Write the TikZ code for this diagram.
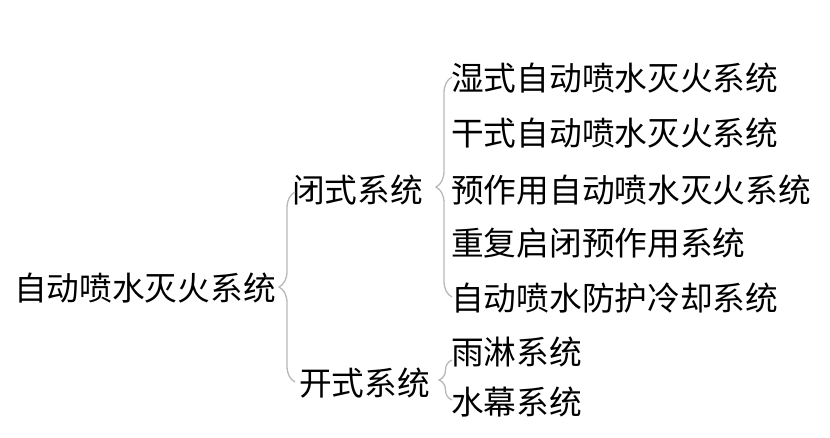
\documentclass[tikz,border=0pt]{standalone}
\usepackage{fontspec}
\setmainfont{Noto Sans CJK SC}
\usetikzlibrary{decorations.pathreplacing}
\definecolor{bracegray}{HTML}{B8B8B8}
\tikzset{
  lbl/.style={anchor=west, inner sep=0pt, font=\fontsize{32.7}{38}\selectfont, text=black},
  br/.style={draw=bracegray, line width=1.3pt, decorate, decoration={brace, amplitude=#1}},
}
\begin{document}
\begin{tikzpicture}[x=1pt,y=-1pt]
\useasboundingbox (0,0) rectangle (830,437);
\node[lbl] (root) at (14,288) {自动喷水灭火系统};
\node[lbl] (closed) at (292,190) {闭式系统};
\node[lbl] (open) at (299,383) {开式系统};
\node[lbl] (l1) at (451,78) {湿式自动喷水灭火系统};
\node[lbl] (l2) at (451,133) {干式自动喷水灭火系统};
\node[lbl] (l3) at (451,190) {预作用自动喷水灭火系统};
\node[lbl] (l4) at (451,243) {重复启闭预作用系统};
\node[lbl] (l5) at (451,298) {自动喷水防护冷却系统};
\node[lbl] (l6) at (451,352) {雨淋系统};
\node[lbl] (l7) at (451,402) {水幕系统};
\coordinate (b1t) at (295,192);
\coordinate (b1b) at (295,382);
\coordinate (b2t) at (452,77);
\coordinate (b2b) at (452,297);
\coordinate (b3t) at (452,360);
\coordinate (b3b) at (452,400);
\draw[br=16pt] (b1b) -- (b1t);
\draw[br=16pt] (b2b) -- (b2t);
\draw[br=13pt] (b3b) -- (b3t);
\end{tikzpicture}
\end{document}
